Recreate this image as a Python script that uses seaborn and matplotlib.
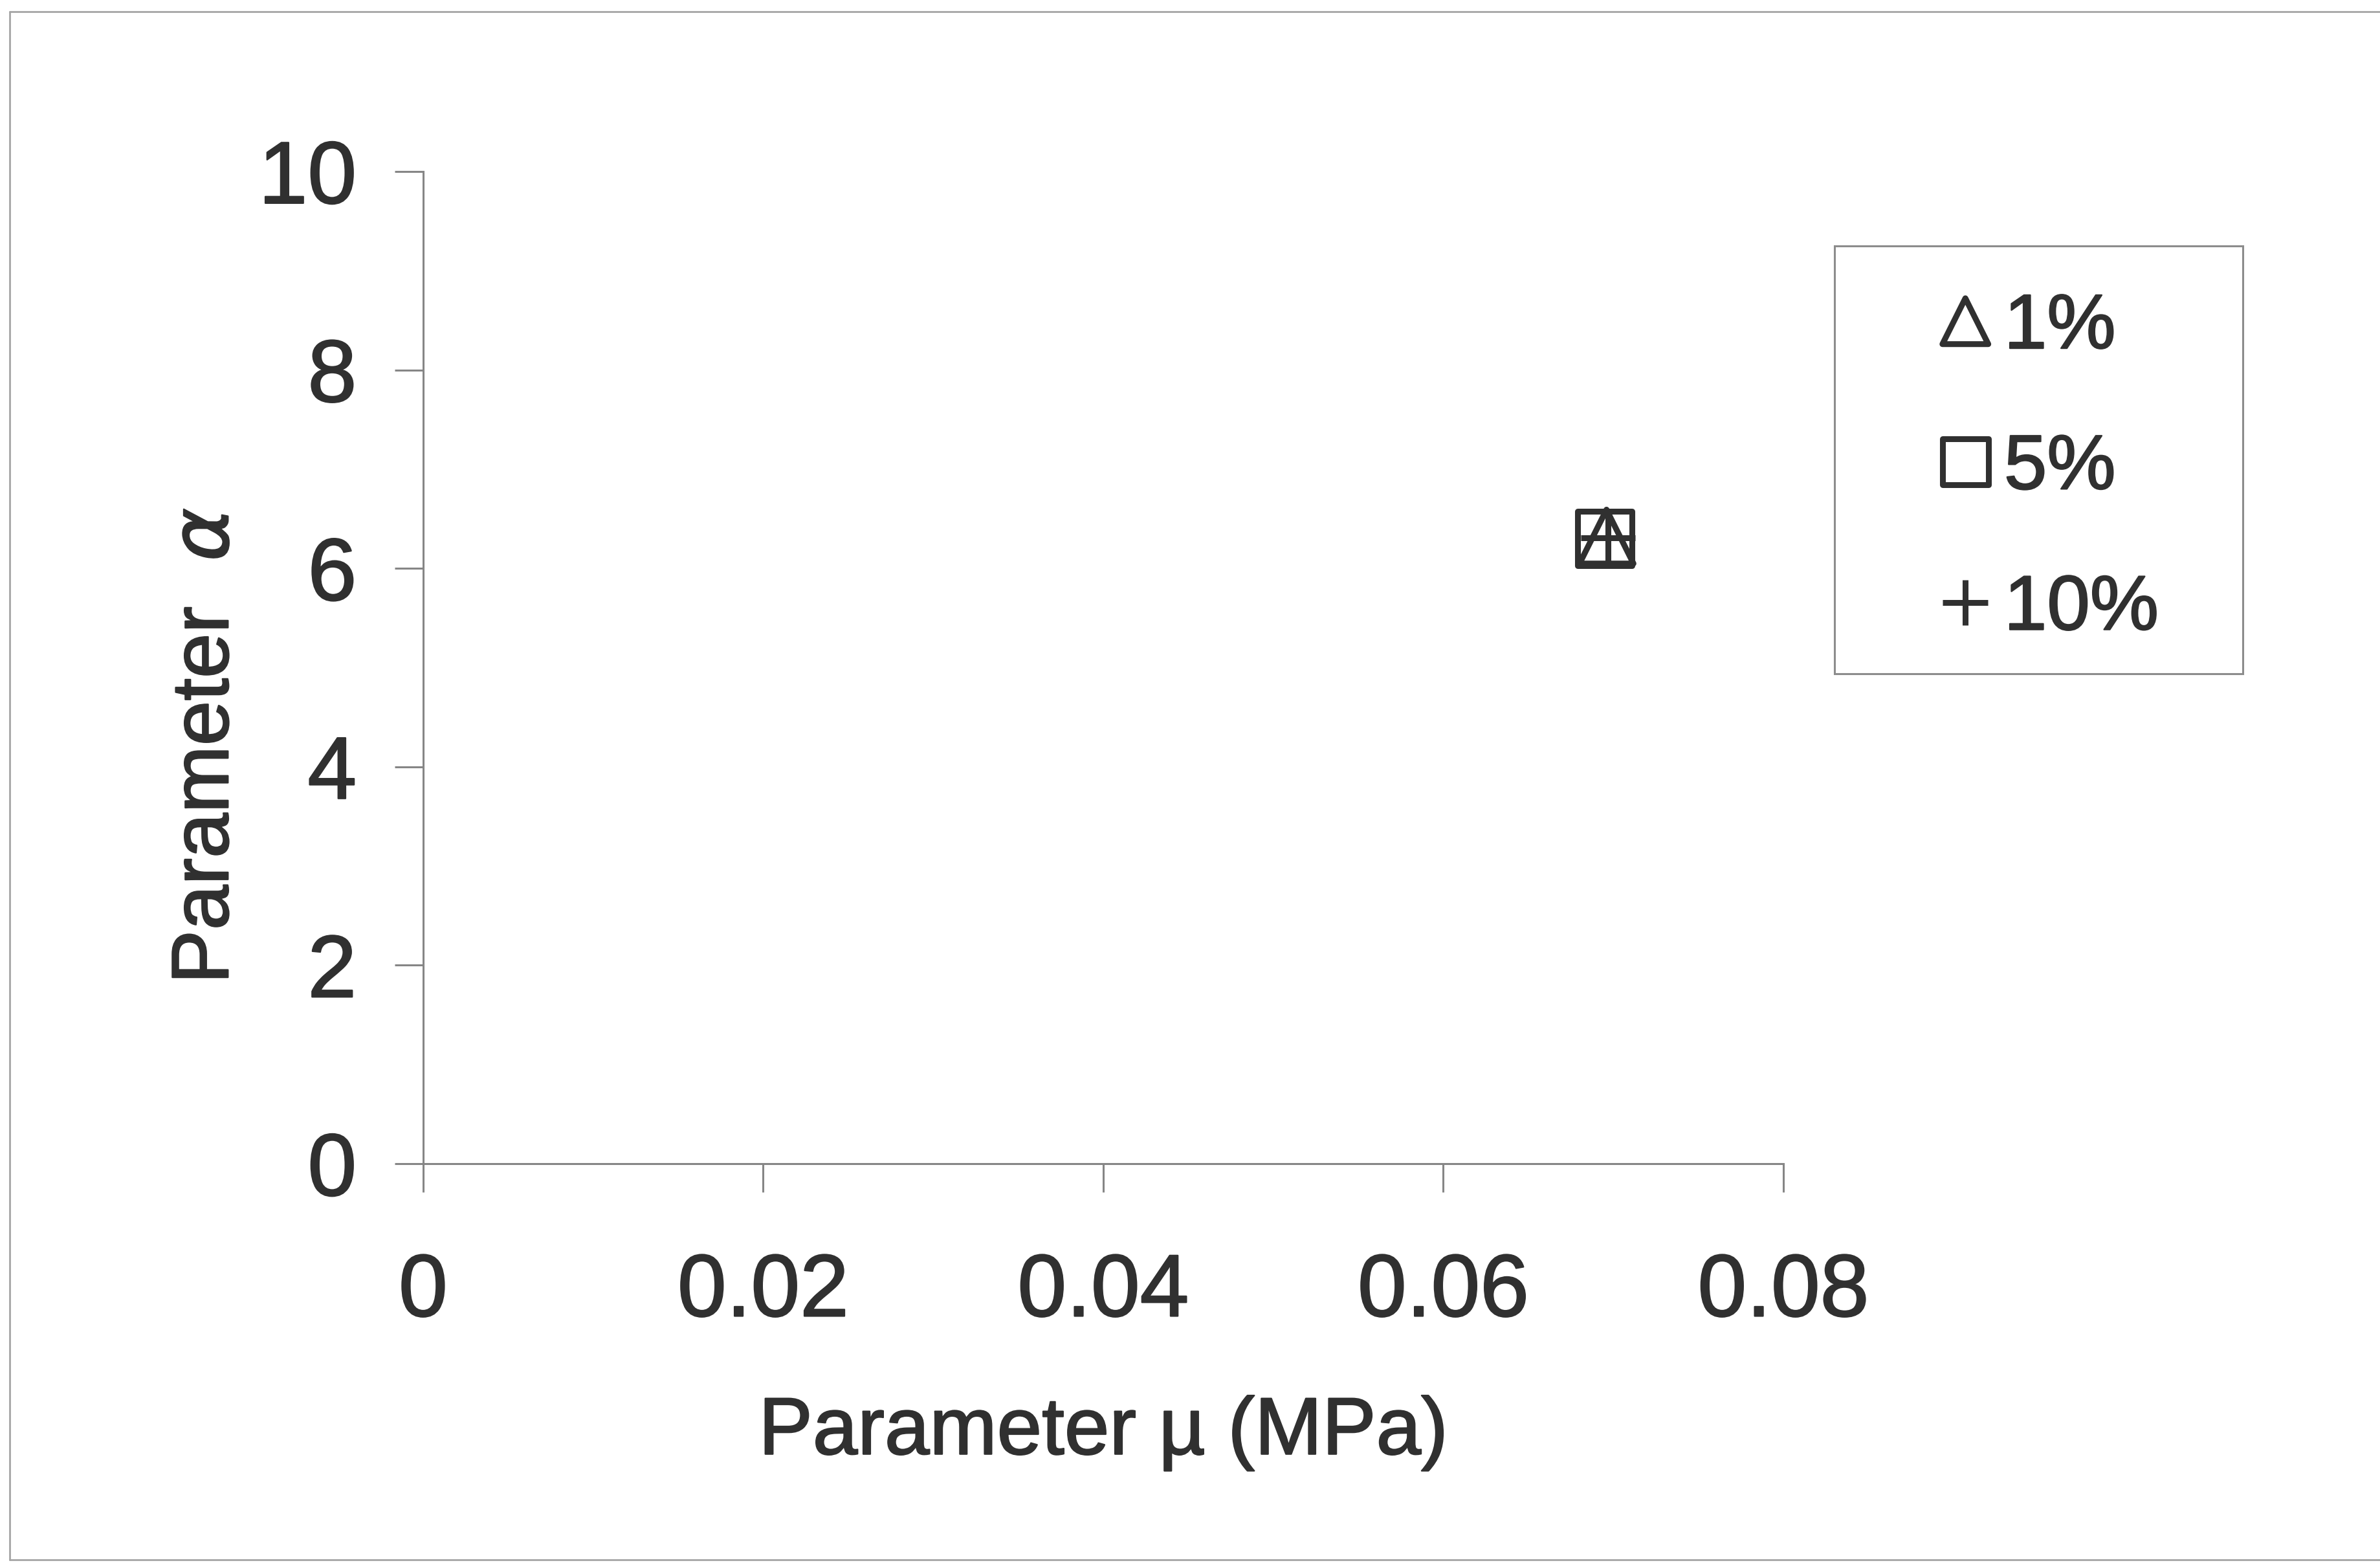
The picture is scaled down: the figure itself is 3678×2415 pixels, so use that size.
import matplotlib
matplotlib.use("Agg")
import matplotlib.pyplot as plt
from matplotlib.lines import Line2D
from matplotlib.patches import Rectangle
import matplotlib.patheffects as pe
import seaborn as sns
import pandas as pd

# Fitted material parameters for three strain levels
series = ["1%", "5%", "10%"]
mu_values = [0.0696, 0.0695, 0.0697]      # Parameter mu (MPa)
alpha_values = [6.32, 6.30, 6.31]         # Parameter alpha
series_markers = ["^", "s", "+"]

x_ticks = [0, 0.02, 0.04, 0.06, 0.08]
x_tick_labels = ["0", "0.02", "0.04", "0.06", "0.08"]
y_ticks = [0, 2, 4, 6, 8, 10]
y_tick_labels = ["0", "2", "4", "6", "8", "10"]

df = pd.DataFrame({"strain": series, "mu": mu_values, "alpha": alpha_values})

sns.set_theme(style="white")
plt.rcParams["font.family"] = ["Liberation Sans", "DejaVu Sans"]
plt.rcParams["mathtext.fontset"] = "dejavusans"

INK = "#303030"
AXIS_GREY = "#868686"
thicken = [pe.withStroke(linewidth=1.6, foreground=INK)]

fig = plt.figure(figsize=(36.78, 24.15), dpi=100)
fig.patch.set_facecolor("white")
ax = fig.add_axes([0.1778, 0.2555, 0.5715, 0.6348])
ax.set_facecolor("white")

marker_size = 60
for name, mk in zip(series, series_markers):
    sub = df[df["strain"] == name]
    if mk == "+":
        sns.scatterplot(data=sub, x="mu", y="alpha", marker=mk, s=marker_size ** 2,
                        color=INK, linewidth=6.5, ax=ax, label=name, zorder=3)
    else:
        sns.scatterplot(data=sub, x="mu", y="alpha", marker=mk, s=marker_size ** 2,
                        color=INK, facecolor="none", edgecolor=INK, linewidth=6.5,
                        ax=ax, label=name, zorder=3)

ax.set_xlim(0, 0.08)
ax.set_ylim(0, 10)
ax.set_xticks(x_ticks)
ax.set_xticklabels(x_tick_labels)
ax.set_yticks(y_ticks)
ax.set_yticklabels(y_tick_labels)

for side in ["top", "right"]:
    ax.spines[side].set_visible(False)
for side in ["left", "bottom"]:
    ax.spines[side].set_color(AXIS_GREY)
    ax.spines[side].set_linewidth(2.2)

ax.tick_params(axis="both", which="major", direction="out", length=32, width=2.2,
               color=AXIS_GREY, labelcolor=INK, labelsize=98)
ax.tick_params(axis="x", pad=67)
ax.tick_params(axis="y", pad=42)
ax.xaxis.set_ticks_position("bottom")
ax.yaxis.set_ticks_position("left")
for lbl in ax.get_xticklabels() + ax.get_yticklabels():
    lbl.set_path_effects(thicken)

ax.set_xlabel("Parameter \u00b5 (MPa)", fontsize=90, color=INK, va="top")
ax.xaxis.set_label_coords(0.5, -0.234)
ax.set_ylabel("Parameter  $\\alpha$", fontsize=90, color=INK)
ax.yaxis.set_label_coords(-0.131, 0.421)
ax.xaxis.label.set_path_effects(thicken)
ax.yaxis.label.set_path_effects(thicken)

leg = ax.legend(loc="upper left",
                bbox_to_anchor=(0.7709, 0.8211, 0.9418 - 0.7709, 0.01),
                bbox_transform=fig.transFigure, mode="expand", borderaxespad=0,
                frameon=False,
                prop={"size": 86, "family": ["Liberation Sans", "DejaVu Sans"]},
                borderpad=0.37, labelspacing=0.89, handlelength=2.64,
                handletextpad=-0.82, markerscale=0.85, scatterpoints=1,
                scatteryoffsets=[0.5])
for t in leg.get_texts():
    t.set_color(INK)
    t.set_path_effects(thicken)

# Legend box outline
fig.add_artist(Rectangle((0.7708, 0.5689), 0.9424 - 0.7708, 0.8427 - 0.5689,
                         transform=fig.transFigure, fill=False,
                         edgecolor="#8c8c8c", linewidth=2.2, zorder=0))

# Thin frame drawn around the chart area
frame_kw = dict(color="#a5a5a5", linewidth=2.0, transform=fig.transFigure)
fig.add_artist(Line2D([0.0041, 0.0041], [0.0020, 0.9926], **frame_kw))
fig.add_artist(Line2D([0.0041, 1.0], [0.9926, 0.9926], **frame_kw))
fig.add_artist(Line2D([0.0041, 1.0], [0.0020, 0.0020], **frame_kw))

fig.savefig("out.png", dpi=100, facecolor="white")
